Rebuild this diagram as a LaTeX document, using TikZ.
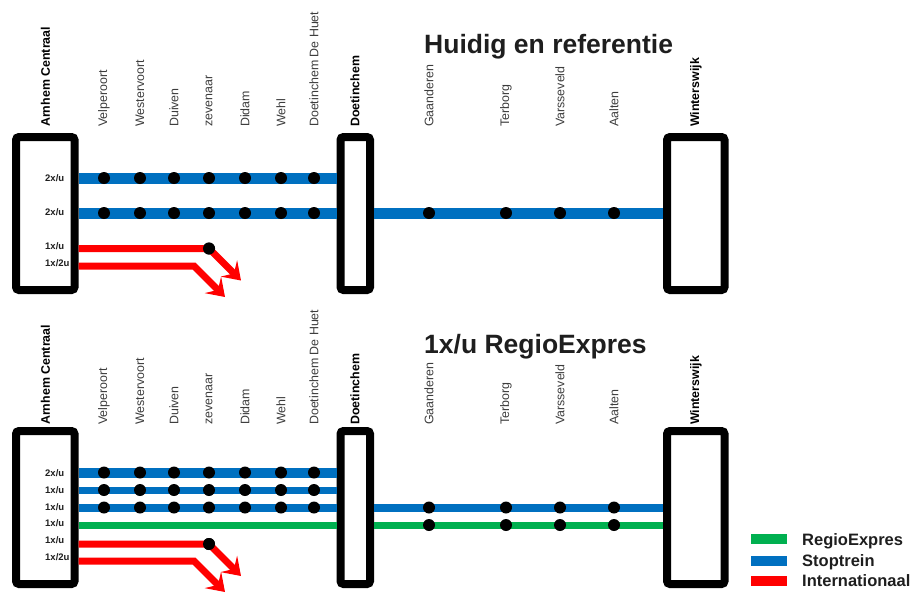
\documentclass[tikz,border=0pt]{standalone}
\usepackage{fontspec}
\setmainfont{Liberation Sans}
\usetikzlibrary{arrows.meta}
\definecolor{stopblue}{RGB}{0,112,192}
\definecolor{regiogreen}{RGB}{0,176,80}
\definecolor{intred}{RGB}{255,0,0}
\definecolor{txtgray}{RGB}{60,60,60}
\definecolor{txtdark}{RGB}{30,30,30}
\begin{document}
\begin{tikzpicture}[x=1pt,y=-1pt,
  stationbox/.style={draw=black, line width=8pt, rounded corners=3pt, minimum width=#1, minimum height=153pt, inner sep=0pt},
  thickblue/.style={draw=stopblue, line width=11pt},
  thinblue/.style={draw=stopblue, line width=7pt},
  greenline/.style={draw=regiogreen, line width=7pt},
  redline/.style={draw=intred, line width=7pt, -{Stealth[length=17pt,width=23pt,inset=7pt]}},
  stopdot/.style={circle, fill=black, inner sep=0pt, minimum size=12pt},
  stoplabel/.style={rotate=90, anchor=west, inner sep=0pt, text=txtgray, font=\fontsize{12.4}{13}\selectfont},
  mainlabel/.style={rotate=90, anchor=west, inner sep=0pt, text=black, font=\fontsize{12.4}{13}\selectfont\bfseries},
  freqlabel/.style={anchor=west, inner sep=0pt, text=txtdark, font=\fontsize{9.5}{10}\selectfont\bfseries},
  titlelabel/.style={anchor=base west, inner sep=0pt, text=txtdark, font=\fontsize{26.5}{28}\selectfont\bfseries},
  legendtext/.style={anchor=base west, inner sep=0pt, text=txtdark, font=\fontsize{16.5}{18}\selectfont\bfseries},
  swatch/.style={minimum width=36pt, minimum height=10pt, inner sep=0pt}
]
\useasboundingbox (0,0) rectangle (917,592);

% ---------------- Titles ----------------
\node[titlelabel] (title1) at (424,53) {Huidig en referentie};
\node[titlelabel] (title2) at (424,353) {1x/u RegioExpres};

% ---------------- Top section ----------------
\node[stationbox=58.5pt] (arnT) at (45.25,213.5) {};
\node[stationbox=29.5pt] (doeT) at (355.25,213.5) {};
\node[stationbox=57.5pt] (winT) at (695.75,213.5) {};

\draw[thickblue] (arnT.east |- 0,178) -- (doeT.west |- 0,178);
\draw[thickblue] (arnT.east |- 0,213) -- (doeT.west |- 0,213);
\draw[thickblue] (doeT.east |- 0,213) -- (winT.west |- 0,213);

\foreach \x [count=\i] in {104,140,174,209,245,281,314} {
  \node[stopdot] (ta\i) at (\x,178) {};
  \node[stopdot] (tb\i) at (\x,213) {};
}
\foreach \x [count=\i] in {429,506,560,614} {
  \node[stopdot] (tc\i) at (\x,213) {};
}

\node[stopdot] (tred) at (209,248.5) {};
\coordinate (tredA) at (241,280.5);
\coordinate (tredB) at (194,266);
\coordinate (tredC) at (225,297);
\draw[redline] (arnT.east |- 0,248.5) -- (tred.center) -- (tredA);
\draw[redline] (arnT.east |- 0,266) -- (tredB) -- (tredC);
\node[stopdot] at (tred) {};

\node[freqlabel] (tf1) at (45,178) {2x/u};
\node[freqlabel] (tf2) at (45,212.5) {2x/u};
\node[freqlabel] (tf3) at (45,246) {1x/u};
\node[freqlabel] (tf4) at (45,263) {1x/2u};

\node[mainlabel] (tlA) at (45.5,127) {Arnhem Centraal};
\node[mainlabel] (tlD) at (355,127) {Doetinchem};
\node[mainlabel] (tlW) at (696,127) {Winterswijk};
\foreach \x/\n [count=\i] in {104/Velperoort,140/Westervoort,174/Duiven,209/zevenaar,245/Didam,281/Wehl,314/Doetinchem De Huet,429/Gaanderen,506/Terborg,560/Varsseveld,614/Aalten} {
  \node[stoplabel] (tl\i) at (\x,127) {\n};
}

% ---------------- Bottom section ----------------
\node[stationbox=58.5pt] (arnB) at (45.25,507.5) {};
\node[stationbox=29.5pt] (doeB) at (355.25,507.5) {};
\node[stationbox=57.5pt] (winB) at (695.75,507.5) {};

\draw[thickblue, line width=10pt] (arnB.east |- 0,472.5) -- (doeB.west |- 0,472.5);
\draw[thinblue] (arnB.east |- 0,490) -- (doeB.west |- 0,490);
\draw[thinblue, line width=8pt] (arnB.east |- 0,507.5) -- (doeB.west |- 0,507.5);
\draw[thinblue, line width=8pt] (doeB.east |- 0,507.5) -- (winB.west |- 0,507.5);
\draw[greenline] (arnB.east |- 0,525) -- (doeB.west |- 0,525);
\draw[greenline] (doeB.east |- 0,525) -- (winB.west |- 0,525);

\foreach \x [count=\i] in {104,140,174,209,245,281,314} {
  \node[stopdot] (ba\i) at (\x,472.5) {};
  \node[stopdot] (bb\i) at (\x,490) {};
  \node[stopdot] (bc\i) at (\x,507.5) {};
}
\foreach \x [count=\i] in {429,506,560,614} {
  \node[stopdot] (bd\i) at (\x,507.5) {};
  \node[stopdot] (be\i) at (\x,525) {};
}

\node[stopdot] (bred) at (209,544) {};
\coordinate (bredA) at (241,576);
\coordinate (bredB) at (194,561);
\coordinate (bredC) at (225,592);
\draw[redline] (arnB.east |- 0,544) -- (bred.center) -- (bredA);
\draw[redline] (arnB.east |- 0,561) -- (bredB) -- (bredC);
\node[stopdot] at (bred) {};

\node[freqlabel] (bf1) at (45,473) {2x/u};
\node[freqlabel] (bf2) at (45,490) {1x/u};
\node[freqlabel] (bf3) at (45,507) {1x/u};
\node[freqlabel] (bf4) at (45,523.5) {1x/u};
\node[freqlabel] (bf5) at (45,540.5) {1x/u};
\node[freqlabel] (bf6) at (45,557.5) {1x/2u};

\node[mainlabel] (blA) at (45.5,425) {Arnhem Centraal};
\node[mainlabel] (blD) at (355,425) {Doetinchem};
\node[mainlabel] (blW) at (696,425) {Winterswijk};
\foreach \x/\n [count=\i] in {104/Velperoort,140/Westervoort,174/Duiven,209/zevenaar,245/Didam,281/Wehl,314/Doetinchem De Huet,429/Gaanderen,506/Terborg,560/Varsseveld,614/Aalten} {
  \node[stoplabel] (bl\i) at (\x,425) {\n};
}

% ---------------- Legend ----------------
\node[swatch, fill=regiogreen] (lg1) at (769,539) {};
\node[swatch, fill=stopblue] (lg2) at (769,560.5) {};
\node[swatch, fill=intred] (lg3) at (769,580.5) {};
\node[legendtext] (lt1) at (802,545) {RegioExpres};
\node[legendtext] (lt2) at (802,566.5) {Stoptrein};
\node[legendtext] (lt3) at (802,586.5) {Internationaal};
\end{tikzpicture}
\end{document}
